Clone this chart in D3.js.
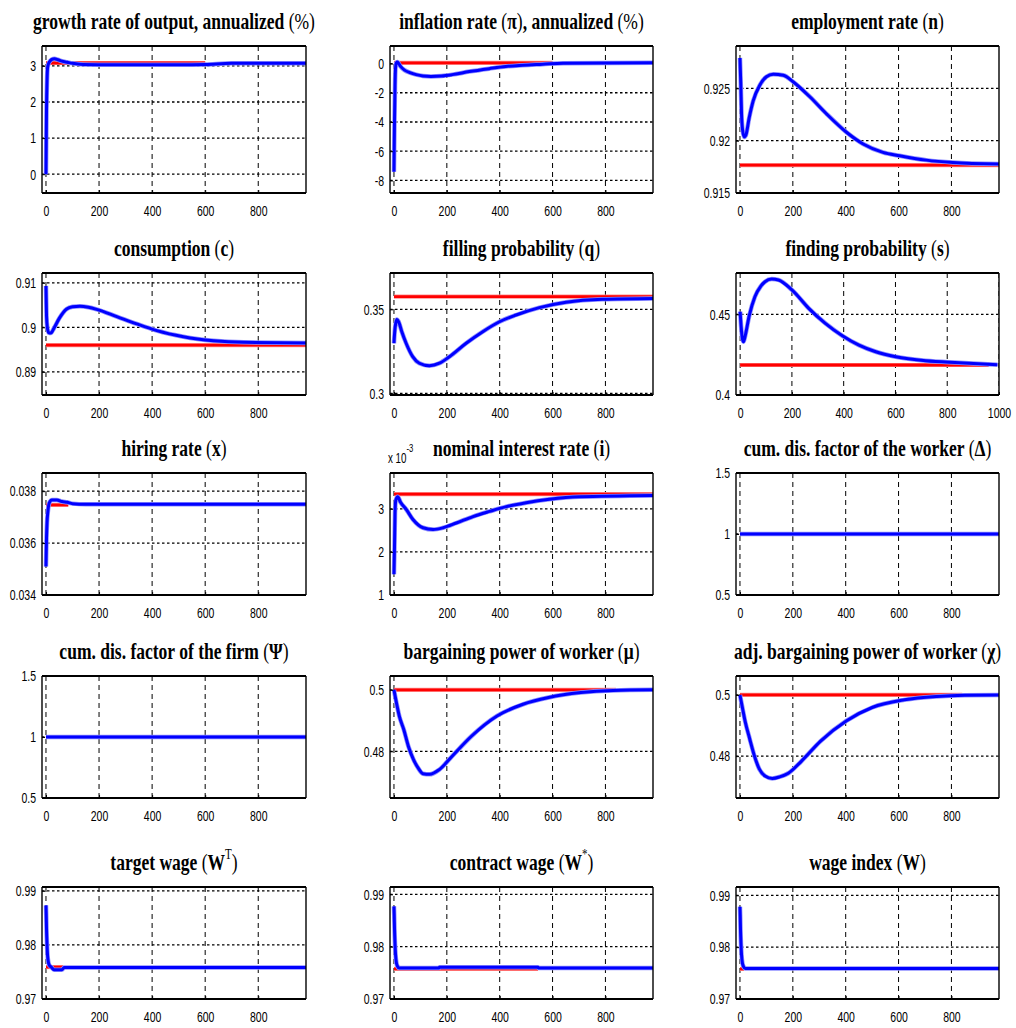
<!DOCTYPE html>
<html><head><meta charset="utf-8">
<script src="https://cdn.jsdelivr.net/npm/d3@7"></script>
<style>body{margin:0;background:#fff}svg{display:block}</style>
</head><body>
<script>
// ---------- data ----------
const titles = [
  "growth rate of output, annualized (%)", "inflation rate (π), annualized (%)", "employment rate (n)",
  "consumption (c)", "filling probability (q)", "finding probability (s)",
  "hiring rate (x)", "nominal interest rate (i)", "cum. dis. factor of the worker (Δ)",
  "cum. dis. factor of the firm (Ψ)", "bargaining power of worker (μ)", "adj. bargaining power of worker (χ)",
  "target wage (W^T)", "contract wage (W^*)", "wage index (W)"
];
const xTicks = [0, 200, 400, 600, 800];
const xTicksFind = [0, 200, 400, 600, 800, 1000];

const growthBlue = [[0,0],[2,1.8],[4,2.6],[6,2.95],[9,3.05],[14,3.12],[22,3.18],[32,3.2],[45,3.17],[60,3.13],[80,3.1],[100,3.07],[140,3.04],[250,3.03],[500,3.03],[600,3.04],[700,3.07],[980,3.07]];
const growthRed = [[0,3.08],[600,3.08]];
const growthTicks = [0,1,2,3];

const inflBlue = [[0,-7.4],[2,-4],[4,-1.5],[6,-0.3],[9,0.05],[13,0.1],[18,0],[25,-0.2],[40,-0.45],[60,-0.62],[84,-0.76],[110,-0.85],[140,-0.88],[180,-0.85],[220,-0.76],[285,-0.55],[360,-0.35],[423,-0.2],[486,-0.12],[562,-0.05],[640,0.02],[980,0.05]];
const inflRed = [[0,0.05],[600,0.05]];
const inflTicks = [-8,-6,-4,-2,0];

const emplBlue = [[0,0.9279],[3,0.9255],[6,0.9225],[10,0.921],[16,0.92035],[22,0.9205],[35,0.9222],[50,0.9238],[75,0.9253],[100,0.9261],[126,0.92635],[164,0.92625],[202,0.9256],[265,0.92417],[327,0.92257],[403,0.9208],[466,0.91968],[541,0.91888],[604,0.91856],[705,0.91814],[805,0.91791],[980,0.91776]];
const emplRed = [[0,0.91766],[980,0.91766]];
const emplTicks = [0.915,0.92,0.925];

const consBlue = [[0,0.9093],[2,0.9026],[5,0.9],[10,0.8988],[18,0.8987],[30,0.8998],[50,0.902],[78,0.9041],[100,0.9046],[128,0.90472],[160,0.9045],[191,0.90404],[267,0.9024],[342,0.90076],[418,0.89926],[518,0.8979],[632,0.897],[745,0.89663],[980,0.8965]];
const consRed = [[0,0.896],[980,0.896]];
const consTicks = [0.89,0.9,0.91];

const fillBlue = [[0,0.3298],[3,0.337],[7,0.342],[11,0.344],[18,0.3425],[30,0.3365],[46,0.3298],[71,0.3218],[96,0.3179],[134,0.3164],[172,0.3179],[210,0.3218],[273,0.3298],[336,0.3367],[399,0.3426],[462,0.3466],[550,0.351],[651,0.3542],[789,0.356],[980,0.3565]];
const fillRed = [[0,0.3575],[980,0.3575]];
const fillTicks = [0.3,0.35];

const findBlue = [[0,0.4516],[4,0.442],[8,0.4355],[13,0.433],[20,0.437],[35,0.449],[57,0.4609],[80,0.4675],[96,0.4702],[122,0.4719],[148,0.4713],[200,0.4651],[265,0.4537],[329,0.4444],[395,0.4367],[459,0.4309],[524,0.4268],[601,0.4237],[717,0.4212],[846,0.42],[994,0.4188]];
const findRed = [[0,0.4186],[960,0.4186]];
const findTicks = [0.4,0.45];

const hireBlue = [[0,0.0351],[2,0.0362],[4,0.0368],[7,0.0372],[10,0.03745],[15,0.0376],[22,0.03766],[41,0.03766],[60,0.0376],[80,0.03757],[100,0.03752],[150,0.0375],[980,0.0375]];
const hireRed = [[0,0.03747],[84,0.03747]];
const hireTicks = [0.034,0.036,0.038];

const rateBlue = [[0,1.48],[2,2.1],[4,2.9],[7,3.2],[14,3.28],[25,3.15],[47,2.98],[72,2.75],[110,2.56],[148,2.52],[186,2.56],[236,2.67],[299,2.82],[362,2.94],[425,3.05],[500,3.14],[588,3.22],[701,3.28],[980,3.31]];
const rateRed = [[0,3.34],[980,3.34]];
const rateTicks = [1,2,3];

const deltaBlue = [[0,1],[980,1]];
const deltaRed = [[0,1],[980,1]];
const psiBlue = [[0,1],[980,1]];
const psiRed = [[0,1],[980,1]];
const unitTicks = [0.5,1,1.5];

const muBlue = [[0,0.5],[10,0.4955],[20,0.4915],[37,0.4871],[55,0.4815],[74,0.4773],[92,0.4745],[110,0.4727],[135,0.4725],[171,0.474],[220,0.4784],[293,0.4849],[390,0.4915],[488,0.4953],[585,0.4975],[707,0.4991],[829,0.4998],[980,0.5]];
const muRed = [[0,0.5],[840,0.5]];
const chiBlue = [[0,0.5],[10,0.4955],[20,0.4912],[37,0.4856],[55,0.48],[73,0.4758],[95,0.4735],[122,0.4727],[150,0.4732],[183,0.4744],[232,0.4783],[305,0.4849],[402,0.4915],[500,0.4959],[622,0.4984],[744,0.4995],[850,0.4999],[980,0.5]];
const chiRed = [[0,0.5],[841,0.5]];
const powerTicks = [0.48,0.5];

const wtBlue = [[0,0.9873],[1,0.9855],[2,0.983],[4,0.98],[6,0.978],[9,0.9768],[13,0.9762],[20,0.9759],[30,0.9754],[60,0.9754],[68,0.9758],[980,0.9758]];
const wtRed = [[0,0.9759],[65,0.9759]];
const wcBlue = [[0,0.9877],[1,0.986],[2,0.9835],[4,0.9805],[6,0.9785],[9,0.977],[13,0.9763],[20,0.9759],[170,0.9759],[172,0.97605],[545,0.97605],[547,0.9759],[980,0.9759]];
const wcRed = [[0,0.97575],[545,0.97575]];
const wiBlue = [[0,0.9878],[1,0.986],[2,0.9835],[4,0.9805],[6,0.9785],[9,0.977],[13,0.9763],[20,0.9759],[980,0.9759]];
const wiRed = [[0,0.9758],[15,0.9758]];
const wageTicks = [0.97,0.98,0.99];

// ---------- layout ----------
const colX = [[42,306],[390,653],[736,999]];
const rowY = [[46,193],[273,395],[473,595],[676,798],[887,999]];

const panels = [
  {blue:growthBlue, red:growthRed, yDom:[-0.52,3.55], yT:growthTicks},
  {blue:inflBlue, red:inflRed, yDom:[-8.86,1.2], yT:inflTicks},
  {blue:emplBlue, red:emplRed, yDom:[0.915,0.92904], yT:emplTicks},
  {blue:consBlue, red:consRed, yDom:[0.8848,0.9122], yT:consTicks},
  {blue:fillBlue, red:fillRed, yDom:[0.299,0.3716], yT:fillTicks},
  {blue:findBlue, red:findRed, yDom:[0.4,0.4756], yT:findTicks, xT:xTicksFind, xDom:[-16,1000]},
  {blue:hireBlue, red:hireRed, yDom:[0.034,0.0387], yT:hireTicks},
  {blue:rateBlue, red:rateRed, yDom:[1,3.83], yT:rateTicks, exp:true},
  {blue:deltaBlue, red:deltaRed, yDom:[0.5,1.5], yT:unitTicks},
  {blue:psiBlue, red:psiRed, yDom:[0.5,1.5], yT:unitTicks},
  {blue:muBlue, red:muRed, yDom:[0.4648,0.5045], yT:powerTicks},
  {blue:chiBlue, red:chiRed, yDom:[0.4663,0.5062], yT:powerTicks},
  {blue:wtBlue, red:wtRed, yDom:[0.97,0.9907], yT:wageTicks},
  {blue:wcBlue, red:wcRed, yDom:[0.97,0.9914], yT:wageTicks},
  {blue:wiBlue, red:wiRed, yDom:[0.97,0.9916], yT:wageTicks}
];

const svg = d3.select("body").append("svg").attr("width",1016).attr("height",1028);
const fmt = v => String(+v.toPrecision(6));

function addTitle(g, str, cx, y) {
  const t = g.append("text")
    .attr("transform", `translate(${cx},${y}) scale(0.73,1)`)
    .attr("text-anchor","middle")
    .attr("font-family","'Liberation Serif', 'Times New Roman', serif")
    .attr("font-size",24).attr("font-weight","bold").attr("fill","#000");
  const parts = str.split(/(\(|\)|\^.|%)/).filter(s => s.length);
  let shifted = false;
  parts.forEach(p => {
    const ts = t.append("tspan");
    if (p.startsWith("^")) {
      ts.text(p.slice(1)).attr("dy",-11).attr("font-size",15).attr("font-weight","normal");
      shifted = true; return;
    }
    if (shifted) { ts.attr("dy",11); shifted = false; }
    ts.text(p);
    if (p === "(" || p === ")" || p === "%") ts.attr("font-weight","normal");
  });
}

panels.forEach((p, i) => {
  const r = Math.floor(i/3), c = i % 3;
  const [x0, x1] = colX[c], [y0, y1] = rowY[r];
  const x = d3.scaleLinear().domain(p.xDom || [-15,980]).range([x0,x1]);
  const y = d3.scaleLinear().domain(p.yDom).range([y1,y0]);
  const xt = p.xT || xTicks;
  const g = svg.append("g");

  const clipId = "clip" + i;
  g.append("clipPath").attr("id",clipId).append("rect")
    .attr("x",x0).attr("y",y0).attr("width",x1-x0).attr("height",y1-y0);

  // grid
  const grid = g.append("g").attr("clip-path",`url(#${clipId})`);
  grid.selectAll(".vg").data(xt).join("line")
    .attr("x1",d=>x(d)).attr("x2",d=>x(d)).attr("y1",y0).attr("y2",y1)
    .attr("stroke","#000").attr("stroke-width",1).attr("stroke-dasharray","5,4");
  grid.selectAll(".hg").data(p.yT).join("line")
    .attr("x1",x0).attr("x2",x1).attr("y1",d=>y(d)).attr("y2",d=>y(d))
    .attr("stroke","#000").attr("stroke-width",1.3).attr("stroke-dasharray","2.5,2.5");

  // lines
  const line = d3.line().x(d=>x(d[0])).y(d=>y(d[1])).curve(d3.curveMonotoneX);
  const lg = g.append("g").attr("clip-path",`url(#${clipId})`).attr("fill","none")
    .attr("stroke-linejoin","round");
  lg.append("path").attr("d",line(p.red)).attr("stroke","#ff9090").attr("stroke-width",4.2);
  lg.append("path").attr("d",line(p.red)).attr("stroke","#ff0000").attr("stroke-width",2.8);
  lg.append("path").attr("d",line(p.blue)).attr("stroke","#9090ff").attr("stroke-width",4.5);
  lg.append("path").attr("d",line(p.blue)).attr("stroke","#0000ff").attr("stroke-width",3);

  // axes
  const ax = g.append("g").attr("transform",`translate(0,${y1})`)
    .call(d3.axisBottom(x).tickValues(xt).tickSize(-3).tickPadding(12).tickFormat(d3.format("d")));
  ax.select(".domain").remove();
  ax.attr("font-size",15).attr("font-family","'Liberation Sans', Arial, sans-serif");
  ax.selectAll("line").attr("stroke","#000");
  ax.selectAll("text").attr("fill","#000").attr("transform","scale(0.7,1)");

  const ay = g.append("g").attr("transform",`translate(${x0},0)`)
    .call(d3.axisLeft(y).tickValues(p.yT).tickSize(-3).tickPadding(6).tickFormat(fmt));
  ay.select(".domain").remove();
  ay.attr("font-size",15).attr("font-family","'Liberation Sans', Arial, sans-serif");
  ay.selectAll("line").attr("stroke","#000");
  ay.selectAll("text").attr("fill","#000").attr("x",-8.5).attr("transform","scale(0.7,1)");

  // box
  g.append("line").attr("x1",x0).attr("x2",x1).attr("y1",y0).attr("y2",y0).attr("stroke","#000").attr("stroke-width",2);
  g.append("line").attr("x1",x0).attr("x2",x1).attr("y1",y1).attr("y2",y1).attr("stroke","#000").attr("stroke-width",2);
  g.append("line").attr("x1",x0).attr("x2",x0).attr("y1",y0).attr("y2",y1).attr("stroke","#000").attr("stroke-width",1.4);
  g.append("line").attr("x1",x1).attr("x2",x1).attr("y1",y0).attr("y2",y1).attr("stroke","#000").attr("stroke-width",1.4);

  addTitle(g, titles[i], (x0+x1)/2, y0-17);

  if (p.exp) {
    const t = g.append("text").attr("transform",`translate(${x0-2},${y0-10}) scale(0.7,1)`)
      .attr("font-family","'Liberation Sans', Arial, sans-serif").attr("font-size",14).attr("fill","#000");
    t.append("tspan").text("x 10");
    t.append("tspan").text("-3").attr("dy",-11).attr("font-size",11);
  }
});
</script>
</body></html>
